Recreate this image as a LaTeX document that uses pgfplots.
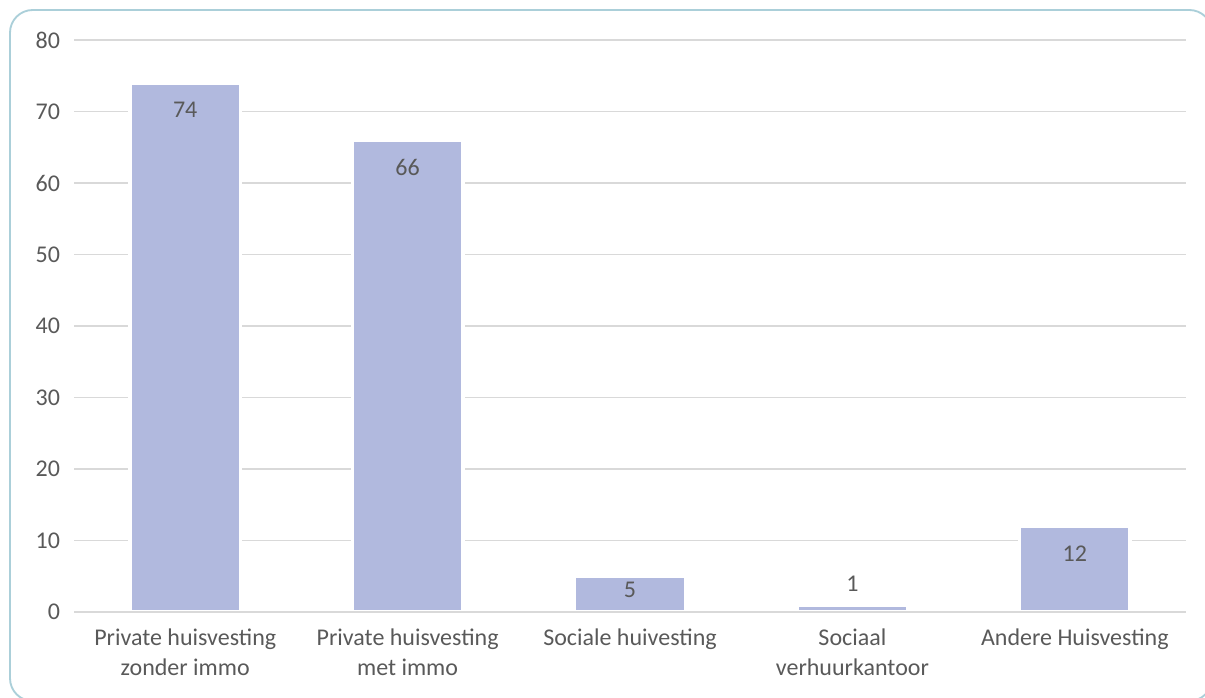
\documentclass[border=0pt]{standalone}
\usepackage{pgfplots}
\pgfplotsset{compat=1.18}
\usepackage{fontspec}
\setmainfont{Carlito}
\definecolor{barc}{HTML}{B1B9DE}
\definecolor{txt}{HTML}{595959}
\definecolor{gridc}{HTML}{D9D9D9}
\definecolor{frame}{HTML}{ABCFD9}
\begin{document}
\begin{tikzpicture}
\useasboundingbox (0,0) rectangle (903.75pt,522.75pt);
\draw[frame, line width=1.4pt, rounded corners=17pt] (7.5pt,-3pt) rectangle (909pt,515.25pt);
\begin{axis}[
  at={(55.5pt,63.75pt)}, anchor=south west,
  scale only axis, width=834pt, height=429pt,
  xmin=-0.5, xmax=4.5, ymin=0, ymax=80,
  ytick={0,10,...,80},
  xtick={0,1,2,3,4},
  xticklabels={Private huisvesting\\zonder immo, Private huisvesting\\met immo, Sociale huivesting, Sociaal\\verhuurkantoor, Andere Huisvesting},
  font=\fontsize{18}{22.5}\selectfont,
  /pgf/number format/assume math mode=true,
  ticklabel style={text=txt},
  xticklabel style={align=center, anchor=north, yshift=-9pt},
  yticklabel style={xshift=-7pt},
  separate axis lines,
  axis x line*=bottom, axis y line*=left,
  x axis line style={draw=none},
  y axis line style={draw=none},
  ytick style={draw=none},
  xtick style={draw=none},
  extra x ticks={-0.5,0.5,1.5,2.5,3.5,4.5},
  extra x tick labels={},
  extra x tick style={grid=none, major tick length=6pt, tick align=outside, tick style={draw=gridc, line width=1.2pt}},
  ymajorgrids, grid style={gridc, line width=1.2pt},
  clip=false,
]
\addplot[ybar, bar width=0.497, fill=barc, draw=white, line width=2.6pt] coordinates {(0,74) (1,66) (2,5) (3,1) (4,12)};
\addplot[draw=none, mark=none, nodes near coords, point meta=explicit symbolic,
  every node near coord/.append style={anchor=center, text=txt, font=\fontsize{18}{22.5}\selectfont}]
  coordinates {(0,70.2) [74] (1,62.2) [66] (2,3.1) [5] (3,3.9) [1] (4,8.2) [12]};
\draw[gridc, line width=1.2pt] (axis cs:-0.5,0) -- (axis cs:4.5,0);
\end{axis}
\end{tikzpicture}
\end{document}
